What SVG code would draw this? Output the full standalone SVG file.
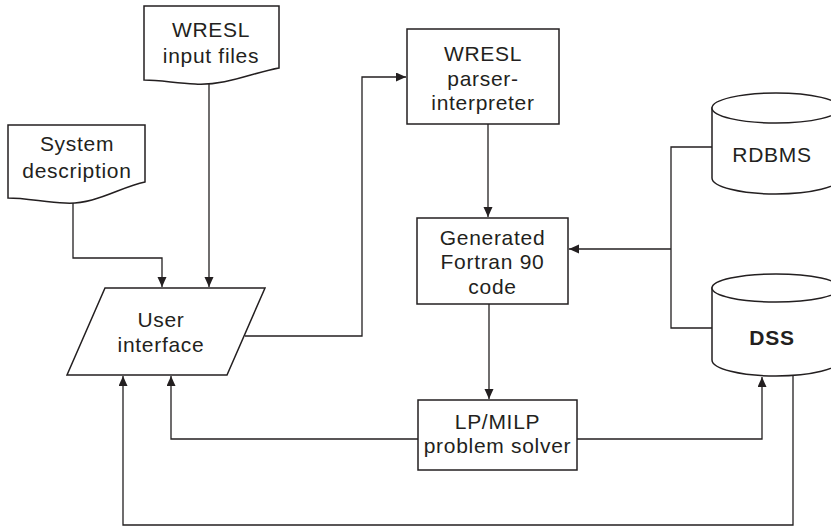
<svg xmlns="http://www.w3.org/2000/svg" width="831" height="526" viewBox="0 0 831 526">
<style>
.shape{fill:#fff;stroke:#231f20;stroke-width:1.5}
.conn{fill:none;stroke:#231f20;stroke-width:1.3}
text{font-family:"Liberation Sans",Arial,sans-serif;font-size:21px;fill:#231f20;text-anchor:middle;letter-spacing:0.7px}
.bold{font-weight:bold}
</style>
<defs>
<marker id="ah" markerUnits="userSpaceOnUse" markerWidth="11" markerHeight="10" refX="10" refY="4.5" orient="auto">
<path d="M0,0 L10,4.5 L0,9 Z" fill="#231f20"/>
</marker>
</defs>
<rect width="831" height="526" fill="#fff"/>
<g id="connectors">
<path class="conn" d="M73,203 V258 H162 V287" marker-end="url(#ah)"/>
<path class="conn" d="M209,84 V287" marker-end="url(#ah)"/>
<path class="conn" d="M245,336 H362 V77 H406" marker-end="url(#ah)"/>
<path class="conn" d="M488,124 V217" marker-end="url(#ah)"/>
<path class="conn" d="M489,304 V399" marker-end="url(#ah)"/>
<path class="conn" d="M712,147 H671 V328 H712"/>
<path class="conn" d="M671,249 H569" marker-end="url(#ah)"/>
<path class="conn" d="M418,439 H171 V376" marker-end="url(#ah)"/>
<path class="conn" d="M577,439 H762 V377" marker-end="url(#ah)"/>
<path class="conn" d="M793,376 V525 H123 V376" marker-end="url(#ah)"/>
</g>
<g id="wresl-input">
<path class="shape" d="M144,6 H279 V68 C255,72 225,86 195,84 C175,83 160,80 144,80 Z"/>
<text x="211" y="37">WRESL</text>
<text x="211" y="63">input files</text>
</g>
<g id="system-description">
<path class="shape" d="M8,125 H145 V182 C120,187 95,205 65,203 C45,202 25,198 8,198 Z"/>
<text x="77" y="151">System</text>
<text x="77" y="178">description</text>
</g>
<g id="user-interface">
<path class="shape" d="M105,288 H265 L227,375 H67 Z"/>
<text x="161" y="327">User</text>
<text x="161" y="352">interface</text>
</g>
<g id="parser">
<rect class="shape" x="407" y="29" width="152" height="95"/>
<text x="483" y="61">WRESL</text>
<text x="483" y="86">parser-</text>
<text x="483" y="110">interpreter</text>
</g>
<g id="fortran">
<rect class="shape" x="417" y="218" width="151" height="86"/>
<text x="492.5" y="245">Generated</text>
<text x="492.5" y="269">Fortran 90</text>
<text x="492.5" y="294">code</text>
</g>
<g id="solver">
<rect class="shape" x="418" y="400" width="159" height="70"/>
<text x="497.5" y="429">LP/MILP</text>
<text x="497.5" y="453">problem solver</text>
</g>
<g id="rdbms">
<path class="shape" d="M712,108 V178 A64,16 0 0 0 840,178 V108 Z"/>
<ellipse class="shape" cx="776" cy="108" rx="64" ry="15"/>
<text x="772" y="162">RDBMS</text>
</g>
<g id="dss">
<path class="shape" d="M712,288 V360 A64,16 0 0 0 840,360 V288 Z"/>
<ellipse class="shape" cx="776" cy="288" rx="64" ry="14"/>
<text class="bold" x="772" y="345">DSS</text>
</g>
</svg>
